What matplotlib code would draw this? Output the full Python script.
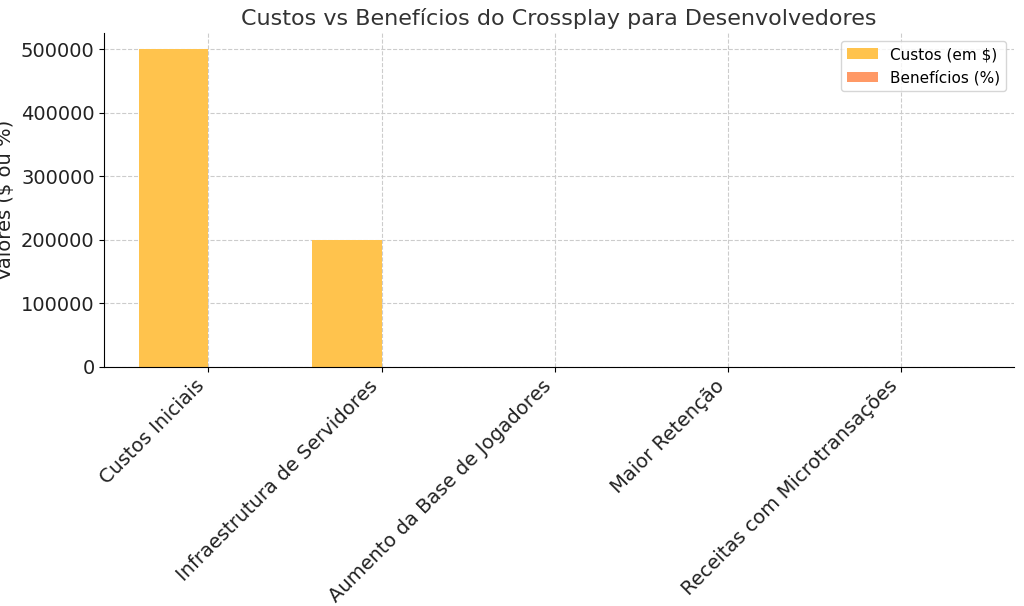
import numpy as np
import matplotlib.pyplot as plt

categorias = ["Custos Iniciais", "Infraestrutura de Servidores", "Aumento da Base de Jogadores",
              "Maior Retenção", "Receitas com Microtransações"]
custos = [500000, 200000, 0, 0, 0]
beneficios = [0, 0, 30, 20, 25]

x = np.arange(len(categorias))
largura = 0.4

fig, ax = plt.subplots(figsize=(10.24, 6.06), dpi=100)
ax.bar(x - largura / 2, custos, largura, label="Custos (em $)", color="#ffc34d")
ax.bar(x + largura / 2, beneficios, largura, label="Benefícios (%)", color="#ff9966")

ax.set_xticks(x)
ax.set_xticklabels(categorias, rotation=45, ha="right", fontsize=14, color="#222222")
ax.tick_params(axis="y", labelsize=14, labelcolor="#222222")
ax.set_xlabel("Categorias", fontsize=14, color="#222222")
ax.set_ylabel("Valores ($ ou %)", fontsize=14, color="#222222")
ax.set_title("Custos vs Benefícios do Crossplay para Desenvolvedores", fontsize=16, color="#333333")
ax.grid(True, linestyle="--", color="#cccccc")
ax.set_axisbelow(True)
ax.set_xlim(-0.6, 4.65)
ax.spines["top"].set_visible(False)
ax.spines["right"].set_visible(False)
ax.legend(loc="upper right", fontsize=11)

plt.subplots_adjust(left=0.102, right=0.99, top=0.945, bottom=0.395)
plt.savefig("out.png")
